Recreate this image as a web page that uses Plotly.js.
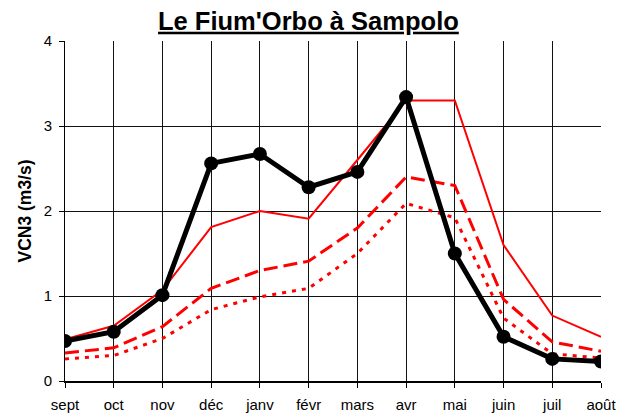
<!DOCTYPE html>
<html><head><meta charset="utf-8">
<script src="https://cdn.plot.ly/plotly-3.0.1.min.js"></script>
<style>body{margin:0;background:#fff}#c{width:632px;height:416px}</style>
</head><body><div id="c"></div>
<script>
const months = ["sept","oct","nov","déc","janv","févr","mars","avr","mai","juin","juil","août"];
const observed = [0.47,0.58,1.01,2.56,2.67,2.28,2.46,3.34,1.50,0.52,0.26,0.23];
const redSolid = [0.49,0.65,1.07,1.81,2.00,1.91,2.60,3.30,3.30,1.60,0.77,0.52];
const redDash  = [0.33,0.39,0.64,1.09,1.30,1.41,1.80,2.40,2.30,0.96,0.46,0.35];
const redDot   = [0.26,0.30,0.50,0.84,0.99,1.09,1.50,2.09,1.92,0.74,0.32,0.27];
const yTicks = [0,1,2,3,4];

const traces = [
  {x: months, y: redDot, mode:'lines', line:{color:'#ff0000', width:3, dash:'4px,6px'}},
  {x: months, y: redDash, mode:'lines', line:{color:'#ff0000', width:3, dash:'14px,6px'}},
  {x: months, y: redSolid, mode:'lines', line:{color:'#ff0000', width:2}},
  {x: months, y: observed, mode:'lines+markers', line:{color:'#000', width:5}, marker:{color:'#000', size:14}}
];
const layout = {
  width:632, height:416,
  margin:{l:65, r:31, t:41, b:35},
  showlegend:false,
  paper_bgcolor:'#fff', plot_bgcolor:'#fff',
  font:{family:'Liberation Sans, Arial, sans-serif', color:'#000', size:15},
  title:{text:"<u><b>Le Fium'Orbo à Sampolo</b></u>", x:0.488, xanchor:'center', y:0.95, yanchor:'middle', font:{size:25.5, color:'#000'}},
  xaxis:{type:'category', range:[0,11], showgrid:true, gridcolor:'#111', gridwidth:1,
    showline:true, linecolor:'#000', linewidth:2, ticks:'outside', ticklen:5, tickcolor:'#000',
    tickfont:{size:15}, zeroline:false, fixedrange:true, ticklabelstandoff:4},
  yaxis:{range:[0,4], tickvals:yTicks, showgrid:true, gridcolor:'#111', gridwidth:1,
    showline:true, linecolor:'#000', linewidth:1, ticks:'outside', ticklen:5, tickcolor:'#000',
    tickfont:{size:15}, zeroline:false, ticklabelstandoff:4,
    title:{text:'<b>VCN3 (m3/s)</b>', font:{size:17.5}, standoff:7}}
};
Plotly.newPlot('c', traces, layout, {displayModeBar:false, staticPlot:true});
</script></body></html>
